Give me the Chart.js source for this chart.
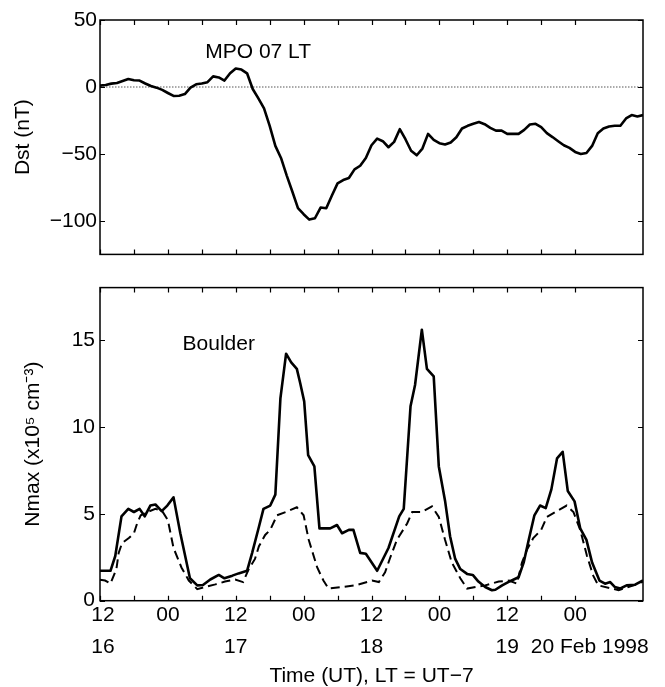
<!DOCTYPE html>
<html>
<head>
<meta charset="utf-8">
<script src="https://cdn.jsdelivr.net/npm/chart.js@4.4.0/dist/chart.umd.min.js"></script>
<style>
  html, body { margin: 0; padding: 0; background: #fff; }
  #wrap { position: relative; width: 665px; height: 687px; }
  canvas { position: absolute; left: 0; }
  #dstChart { top: 0; }
  #nmaxChart { top: 270px; }
</style>
</head>
<body>
<div id="wrap">
  <canvas id="dstChart" width="665" height="270"></canvas>
  <canvas id="nmaxChart" width="665" height="417"></canvas>
</div>
<script>
// hours since 16 Feb 1998 12 UT
const xTickHours = [0, 6, 12, 18, 24, 30, 36, 42, 48, 54, 60, 66, 72, 78, 84];
const xTickLabels = [['\u00a012', '\u00a016'], '', '00', '', ['12', '17'], '', '00', '', ['12', '18'], '', '00', '', ['12', '19'], '', ['00', '\u00a0\u00a0\u00a0\u00a0\u00a020 Feb 1998']];

const dstTicks = [-100, -50, 0, 50];
const nmaxTicks = [0, 5, 10, 15];

// Dst, hourly
const dstHours = [0,1,2,3,4,5,6,7,8,9,10,11,12,13,14,15,16,17,18,19,20,21,22,23,24,25,26,27,28,29,30,31,32,33,34,35,36,37,38,39,40,41,42,43,44,45,46,47,48,49,50,51,52,53,54,55,56,57,58,59,60,61,62,63,64,65,66,67,68,69,70,71,72,73,74,75,76,77,78,79,80,81,82,83,84,85,86,87,88,89,90,91,92,93,94,95,96];
const dstValues = [1,1.5,2.5,3,4.5,6,5,4.8,2.6,0.7,-0.5,-2.2,-4.5,-6.7,-6.5,-5.3,-0.5,2,2.6,3.6,7.9,7.1,4.8,10.2,13.8,13,10.2,-1.5,-8.5,-16,-29,-44,-53,-66,-78,-90.5,-95,-99,-98,-90,-90.5,-81,-72,-69.5,-68,-61.5,-58.8,-53,-43.5,-38.6,-40.5,-45,-41,-31.5,-39,-47.6,-51,-46,-35,-39.5,-42,-43,-41.4,-37.5,-31,-29,-27.5,-26.2,-27.8,-30.5,-32.6,-32.6,-35,-35,-35,-32,-28,-27.5,-30,-34.5,-37.4,-40.5,-43.5,-45.5,-48.5,-50,-49.3,-44,-34.5,-31,-29.5,-29,-29,-23.5,-21,-22,-21];
const zeroHours = [0, 96];
const zeroValues = [0, 0];

// Boulder Nmax (x10^5 cm^-3)
const nmaxHours = [0,1.85,2.7,3.8,5,6,7,7.9,8.9,9.8,10.9,11.9,13,14.2,15.9,17.2,18.2,19.5,21,22,23.4,24.5,26,26.9,28.1,28.9,30.1,31,31.9,32.9,33.8,34.8,35.4,36.1,36.8,37.9,38.8,40.7,41.9,42.8,44,44.8,46,47,49,51,52.9,53.7,54.9,55.7,56.9,57.8,59,59.9,61,61.9,62.8,63.7,64.9,65.9,66.9,68.1,69.3,69.9,71.1,72.5,74,74.9,75.8,76.8,77.8,78.8,79.8,80.8,81.8,82.7,83.9,84.9,86,87,88.3,89.3,90.2,91,92,93.1,94.6,96];
const nmaxValues = [1.72,1.72,2.57,4.85,5.28,5.1,5.28,4.85,5.47,5.53,5.15,5.47,5.94,3.88,1.29,0.88,0.9,1.22,1.48,1.29,1.44,1.57,1.72,2.75,4.25,5.28,5.47,6.1,11.65,14.2,13.7,13.33,12.5,11.46,8.37,7.72,4.16,4.16,4.35,3.88,4.07,4.07,2.75,2.7,1.72,3.03,4.85,5.28,11.18,12.4,15.58,13.33,12.9,7.72,5.75,3.69,2.4,1.82,1.54,1.48,1.1,0.79,0.6,0.63,0.88,1.12,1.35,2.19,3.5,4.91,5.47,5.32,6.4,8.18,8.56,6.31,5.71,4.16,3.5,2.19,1.16,0.98,1.07,0.79,0.7,0.88,0.92,1.16];

// quiet reference (dashed)
const quietHours = [0,0.9,1.85,2.9,3.3,3.9,5.1,6,6.6,7.2,8.4,9.8,11,12,13,14.4,15.7,17.2,18.6,20.4,22.1,23.9,25.3,26.3,27.4,28.1,29.2,30.1,31.3,33.1,34.8,36,36.9,38.4,39.5,40.4,42.8,45.1,48.1,49.3,50.4,51.3,52.5,54.3,55.2,56.9,58.7,59.9,61,62.2,63.7,64.9,66.4,68.1,70.5,72.3,73.7,74.6,75.5,76.6,78,79,80.5,82.5,83.7,84.9,86.1,87.2,88.1,90.5,91.7,93.4,94.6,96];
const quietValues = [1.2,1.16,0.98,1.82,2.75,3.31,3.6,3.88,4.48,4.91,5.1,5.28,5.15,4.63,3.03,1.91,1.16,0.66,0.79,0.94,1.1,1.22,1.07,1.82,2.4,3.13,3.78,4.07,4.91,5.13,5.37,4.91,3.5,1.91,1.16,0.7,0.79,0.88,1.16,1.07,1.63,2.47,3.5,4.44,5.1,5.1,5.42,4.81,3.5,2.19,1.29,0.7,0.79,0.88,1.1,1.16,0.98,2.19,2.94,3.6,4.07,4.81,5.1,5.47,5.1,4.07,2.57,1.44,0.88,0.7,0.6,0.79,0.92,1.1];

const FONT = "'Liberation Sans', Arial, Helvetica, sans-serif";
Chart.defaults.font.family = FONT;
Chart.defaults.color = '#000';

function pts(xs, ys) {
  return xs.map((x, i) => ({ x: x, y: ys[i] }));
}

// box round the plot area, ticks pointing inwards on all four sides
const boxTicks = {
  id: 'boxTicks',
  afterDatasetsDraw(chart) {
    const { ctx, chartArea: a } = chart;
    const sx = chart.scales.x, sy = chart.scales.y;
    const len = 5;
    ctx.save();
    ctx.strokeStyle = '#000';
    ctx.lineWidth = 1.2;
    ctx.beginPath();
    sx.ticks.forEach(t => {
      const p = Math.round(sx.getPixelForValue(t.value)) + 0.5;
      ctx.moveTo(p, a.bottom); ctx.lineTo(p, a.bottom - len);
      ctx.moveTo(p, a.top); ctx.lineTo(p, a.top + len);
    });
    sy.ticks.forEach(t => {
      const p = Math.round(sy.getPixelForValue(t.value)) + 0.5;
      ctx.moveTo(a.left, p); ctx.lineTo(a.left + len, p);
      ctx.moveTo(a.right, p); ctx.lineTo(a.right - len, p);
    });
    ctx.stroke();
    ctx.lineWidth = 1.5;
    ctx.strokeRect(a.left, a.top, a.right - a.left, a.bottom - a.top);
    ctx.restore();
  }
};

// text label inside the panel, placed in data units
const panelText = {
  id: 'panelText',
  afterDraw(chart, args, opts) {
    if (!opts.text) return;
    const ctx = chart.ctx;
    ctx.save();
    ctx.font = '21px ' + FONT;
    ctx.fillStyle = '#000';
    ctx.textBaseline = 'middle';
    ctx.fillText(opts.text, chart.scales.x.getPixelForValue(opts.x), chart.scales.y.getPixelForValue(opts.y));
    ctx.restore();
  }
};

function xScale(height, showLabels) {
  return {
    type: 'linear',
    min: 0,
    max: 96,
    afterBuildTicks: s => { s.ticks = xTickHours.map(v => ({ value: v })); },
    afterFit: s => { s.height = height; },
    grid: { display: false, drawTicks: false },
    border: { display: false },
    ticks: {
      display: showLabels,
      autoSkip: false,
      maxRotation: 0,
      padding: -1,
      font: { size: 21, lineHeight: 1.5 },
      callback: v => xTickLabels[xTickHours.indexOf(v)]
    },
    title: {
      display: showLabels,
      text: 'Time (UT), LT = UT\u22127',
      font: { size: 21, lineHeight: 1 },
      padding: { top: 0, bottom: 0.5 }
    }
  };
}

function yScale(min, max, tickList, title, titlePad, labelPad) {
  return {
    min: min,
    max: max,
    afterBuildTicks: s => { s.ticks = tickList.map(v => ({ value: v })); },
    afterFit: s => { s.width = 100; },
    grid: { display: false, drawTicks: false },
    border: { display: false },
    ticks: {
      padding: labelPad,
      font: { size: 21 },
      callback: v => String(v).replace('-', '\u2212')
    },
    title: {
      display: true,
      text: title,
      font: { size: 21, lineHeight: 1 },
      padding: { top: titlePad, bottom: 0 }
    }
  };
}

new Chart(document.getElementById('dstChart'), {
  type: 'line',
  data: {
    datasets: [
      {
        data: pts(dstHours, dstValues),
        borderColor: '#000',
        borderWidth: 2.6,
        pointRadius: 0,
        tension: 0,
        borderJoinStyle: 'round',
        order: 1
      },
      {
        data: pts(zeroHours, zeroValues),
        borderColor: '#8f8f8f',
        borderWidth: 1.5,
        borderDash: [1.5, 1.5],
        pointRadius: 0,
        order: 2
      }
    ]
  },
  options: {
    responsive: false,
    animation: false,
    devicePixelRatio: 1,
    layout: { padding: { top: 20, right: 22, left: 0, bottom: 0 } },
    plugins: {
      legend: { display: false },
      tooltip: { enabled: false },
      panelText: { text: 'MPO 07 LT', x: 18.6, y: 26.2 }
    },
    scales: {
      x: xScale(7, false),
      y: yScale(-125, 50, dstTicks, 'Dst (nT)', 13, 3)
    }
  },
  plugins: [boxTicks, panelText]
});

new Chart(document.getElementById('nmaxChart'), {
  type: 'line',
  data: {
    datasets: [
      {
        data: pts(nmaxHours, nmaxValues),
        borderColor: '#000',
        borderWidth: 2.6,
        pointRadius: 0,
        tension: 0,
        borderJoinStyle: 'round'
      },
      {
        data: pts(quietHours, quietValues),
        borderColor: '#000',
        borderWidth: 2,
        borderDash: [9, 5],
        pointRadius: 0,
        tension: 0
      }
    ]
  },
  options: {
    responsive: false,
    animation: false,
    devicePixelRatio: 1,
    layout: { padding: { top: 10.7, right: 22, left: 0, bottom: 0 } },
    plugins: {
      legend: { display: false },
      tooltip: { enabled: false },
      panelText: { text: 'Boulder', x: 14.6, y: 14.73 }
    },
    scales: {
      x: xScale(86.3, true),
      y: yScale(0, 18, nmaxTicks, 'Nmax (x10\u2075 cm\u207b\u00b3)', 22.5, 5)
    }
  },
  plugins: [boxTicks, panelText]
});
</script>
</body>
</html>
